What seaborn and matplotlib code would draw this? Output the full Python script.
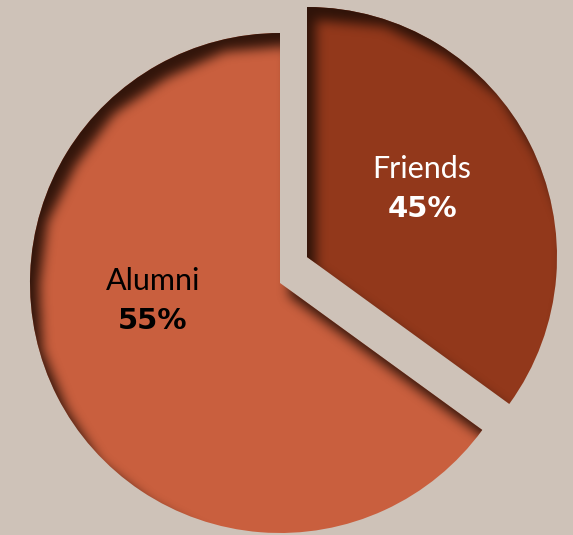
import matplotlib

matplotlib.use("Agg")
import matplotlib.pyplot as plt
import numpy as np
import seaborn as sns
from matplotlib.path import Path

# Data
labels = ["Friends", "Alumni"]
label_pct = [45, 55]          # percentages printed on the slices
slice_size = [35, 65]         # slice sizes as drawn (measured angles)
slice_colors = ["#92381B", "#C95F3E"]
text_colors = ["white", "black"]

BG = "#CEC2B8"
SHADOW = "#2A1108"

sns.set_theme(style="white")
plt.rcParams["font.family"] = ["Lato", "DejaVu Sans"]

fig = plt.figure(figsize=(5.73, 5.35), dpi=100, facecolor=BG)
ax = fig.add_axes([0, 0, 1, 1])
ax.set_facecolor(BG)

wedges, _ = ax.pie(
    slice_size,
    colors=sns.color_palette(slice_colors),
    startangle=90,
    counterclock=False,
    radius=1.0,
    wedgeprops={"linewidth": 0},
)
# Friends slice is pulled out up and to the right
wedges[0].set_center((0.108, 0.104))

x0, x1 = -1.12, 1.172
y0, y1 = -1.008, 1.132
ax.set_xlim(x0, x1)
ax.set_ylim(y0, y1)
ax.set_aspect("equal")
ax.axis("off")


def box_blur(img, r, axis):
    pad = [(0, 0), (0, 0)]
    pad[axis] = (r + 1, r)
    p = np.pad(img, pad, mode="edge")
    c = np.cumsum(p, axis=axis)
    if axis == 0:
        return (c[2 * r + 1:] - c[:-2 * r - 1]) / (2 * r + 1)
    return (c[:, 2 * r + 1:] - c[:, :-2 * r - 1]) / (2 * r + 1)


def blur(img, r, passes=3):
    for _ in range(passes):
        img = box_blur(img, r, 0)
        img = box_blur(img, r, 1)
    return img


# Inner shadow on each slice
W, H = 573, 535
xs = np.linspace(x0, x1, W)
ys = np.linspace(y1, y0, H)
gx, gy = np.meshgrid(xs, ys)
pts = np.column_stack([gx.ravel(), gy.ravel()])
shift = np.array([0.035, -0.05])
rgb = matplotlib.colors.to_rgb(SHADOW)

for w in wedges:
    poly = w.get_path().to_polygons()[0] + shift
    inside = Path(poly).contains_points(pts).reshape(H, W).astype(float)
    shade = blur(1.0 - inside, 5)
    img = np.zeros((H, W, 4))
    img[..., :3] = rgb
    img[..., 3] = np.clip(shade * 0.95, 0, 1)
    im = ax.imshow(img, extent=(x0, x1, y0, y1), origin="upper",
                   interpolation="bilinear", zorder=2)
    im.set_clip_path(w)

# Labels
label_pos = [(0.568, 0.42), (-0.508, -0.028)]
for name, pct, (tx, ty), col in zip(labels, label_pct, label_pos, text_colors):
    ax.text(tx, ty, name, ha="center", va="baseline", fontsize=22,
            fontweight="normal", color=col, zorder=3)
    ax.text(tx, ty - 0.156, f"{pct}%", ha="center", va="baseline",
            fontsize=21, fontweight="bold", family=["DejaVu Sans"],
            color=col, zorder=3)

fig.savefig("out.png", dpi=100, facecolor=BG)
